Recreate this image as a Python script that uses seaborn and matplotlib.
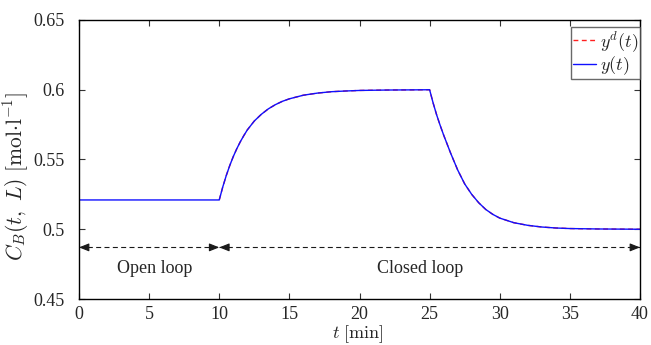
import matplotlib
matplotlib.use("Agg")
import matplotlib.pyplot as plt
import seaborn as sns
import pandas as pd

# Outlet concentration over time (min, mol/l)
time_min = [0, 10, 10.25, 10.5, 10.75, 11, 11.25, 11.5, 11.75, 12, 12.5, 13,
            13.5, 14, 14.5, 15, 16, 17, 18, 19, 20, 22, 25,
            25.25, 25.5, 25.75, 26, 26.5, 27, 27.5, 28, 28.5, 29, 29.5, 30,
            31, 32, 33, 34, 35, 37, 40]
cb_out = [0.521, 0.521, 0.5303, 0.5385, 0.5457, 0.5521, 0.5577, 0.5627, 0.5671,
          0.5712, 0.5776, 0.5824, 0.5863, 0.5893, 0.5917, 0.5935, 0.5961, 0.5976,
          0.5986, 0.5991, 0.5995, 0.5998, 0.600,
          0.5905, 0.582, 0.5745, 0.5675, 0.5545, 0.5425, 0.5325, 0.525, 0.519,
          0.5142, 0.5107, 0.508, 0.5047, 0.5028, 0.5016, 0.5009, 0.5005,
          0.5002, 0.500]

# Reference trajectory (closed-loop phase only)
ref_start = 1
time_ref = time_min[ref_start:]
cb_ref = cb_out[ref_start:]

x_ticks = [0, 5, 10, 15, 20, 25, 30, 35, 40]
y_ticks = [0.45, 0.5, 0.55, 0.6, 0.65]
y_tick_labels = ["0.45", "0.5", "0.55", "0.6", "0.65"]

phase_bounds = [0, 10, 40]
phase_labels = ["Open loop", "Closed loop"]
phase_level = 0.487
phase_text_pos = [(5.4, 0.472), (24.3, 0.472)]

sns.set_theme(style="ticks")
plt.rcParams["font.family"] = ["Liberation Serif", "DejaVu Serif"]
plt.rcParams["mathtext.fontset"] = "cm"

fig = plt.figure(figsize=(6.51, 3.45), dpi=100)
ax = fig.add_axes([79 / 651, 46 / 345, 561 / 651, 279 / 345])

df_ref = pd.DataFrame({"t": time_ref, "cb": cb_ref})
df_out = pd.DataFrame({"t": time_min, "cb": cb_out})

sns.lineplot(data=df_ref, x="t", y="cb", ax=ax, color="#ff2020", lw=1.0,
             linestyle=(0, (3.5, 2.5)), label=r"$y^d(t)$", sort=False)
sns.lineplot(data=df_out, x="t", y="cb", ax=ax, color="#1010ff", lw=1.0,
             label=r"$y(t)$", sort=False)

# Phase markers: dashed span with arrowheads at both ends
for (a, b), txt, pos in zip(zip(phase_bounds[:-1], phase_bounds[1:]),
                            phase_labels, phase_text_pos):
    ax.plot([a, b], [phase_level, phase_level], color="k", lw=0.8,
            linestyle=(0, (4.5, 3)))
    for tip, tail in ((a, a + 0.7), (b, b - 0.7)):
        ax.annotate("", xy=(tip, phase_level), xytext=(tail, phase_level),
                    arrowprops=dict(arrowstyle="-|>,head_length=0.5,head_width=0.2",
                                    color="k", lw=0.8, shrinkA=0, shrinkB=0))
    ax.text(pos[0], pos[1], txt, ha="center", va="center", fontsize=13)

ax.set_xlim(0, 40)
ax.set_ylim(0.45, 0.65)
ax.set_xticks(x_ticks)
ax.set_yticks(y_ticks)
ax.set_yticklabels(y_tick_labels)
ax.tick_params(axis="both", direction="in", top=True, right=True, length=4,
               width=0.8, color="#333333", labelsize=13)
ax.tick_params(axis="y", pad=10)
ax.tick_params(axis="x", pad=5)

for sp in ax.spines.values():
    sp.set_color("black")
    sp.set_linewidth(1.0)

ax.set_xlabel(r"$t\ [\mathrm{min}]$", fontsize=13)
ax.set_ylabel(r"$C_B(t,\ L)\ [\mathrm{mol}{\cdot}\mathrm{l}^{-1}]$", fontsize=15.5)
ax.yaxis.set_label_coords(-0.0856, 0.439)
ax.xaxis.set_label_coords(0.497, -0.088)

leg = ax.legend(loc="upper right", bbox_to_anchor=(1.0, 0.975), borderaxespad=0,
                fontsize=13, handlelength=1.3, handletextpad=0.2,
                borderpad=0.1, labelspacing=0.05, frameon=True, fancybox=False)
leg.get_frame().set_edgecolor("#444444")
leg.get_frame().set_linewidth(1.0)

fig.savefig("out.png", dpi=100)
